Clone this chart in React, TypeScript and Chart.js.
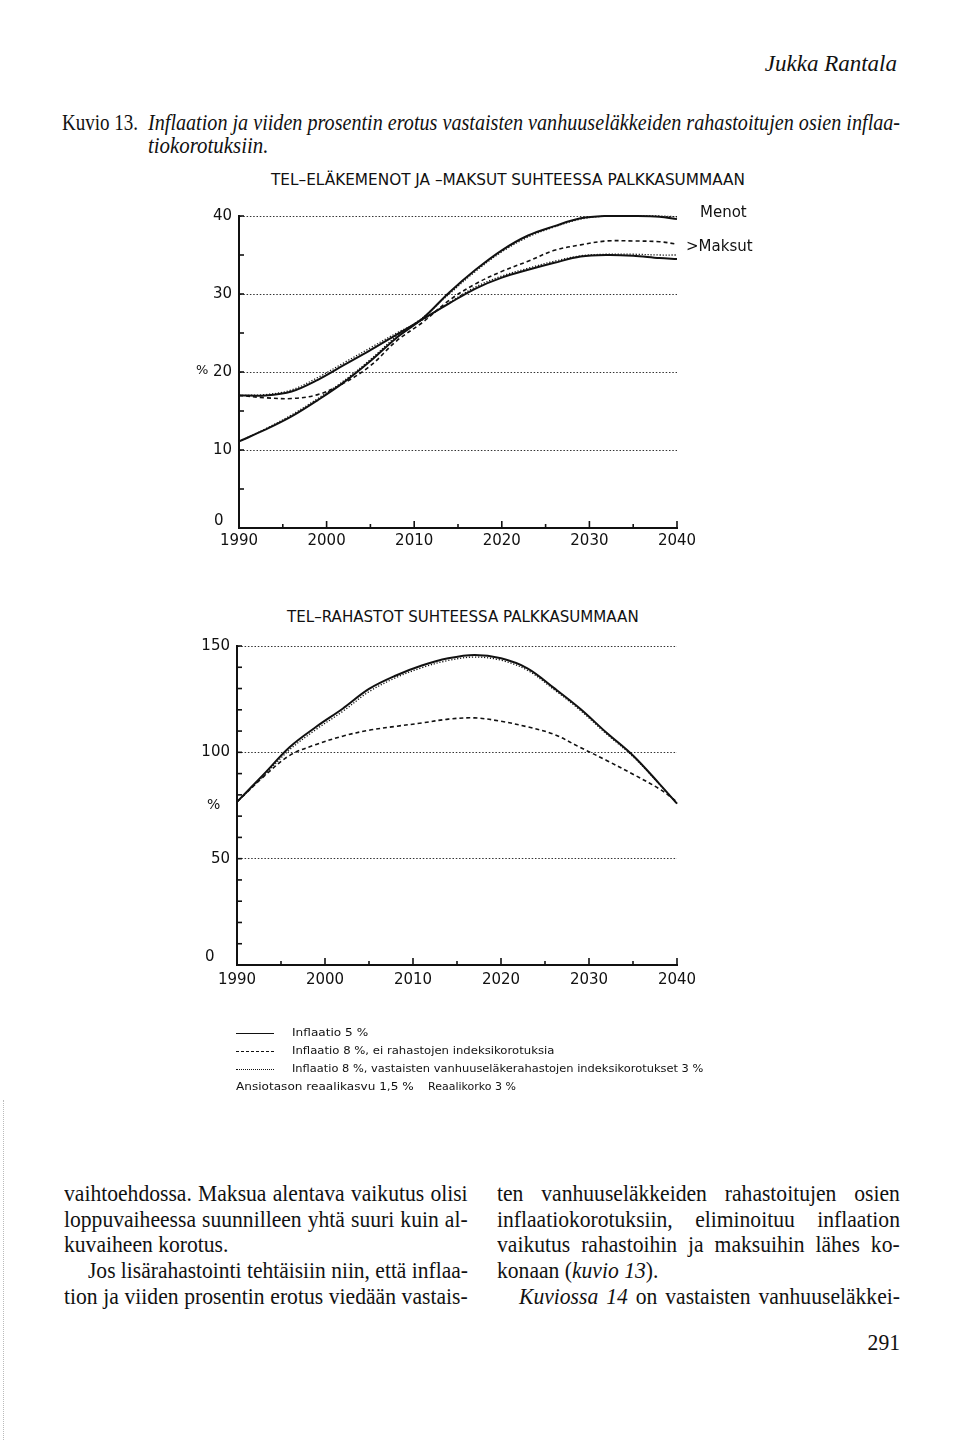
import React, { useEffect, useLayoutEffect, useRef } from "react";
import { Chart, registerables } from "chart.js";

Chart.register(...registerables);

// ---------- data ----------
const years = [1990, 1993, 1996, 1999, 2002, 2005, 2008, 2011, 2014, 2017, 2020, 2023, 2026, 2029, 2032, 2035, 2038, 2040];

// TEL-eläkemenot ja -maksut suhteessa palkkasummaan (%)
const menotInf5 = [11.1, 12.6, 14.3, 16.4, 18.7, 21.4, 24.4, 26.9, 30.2, 33.1, 35.6, 37.5, 38.7, 39.7, 40.0, 40.0, 39.9, 39.6];
const menotInf8Index = [11.1, 12.7, 14.5, 16.6, 18.9, 21.6, 24.6, 27.0, 30.0, 32.9, 35.4, 37.3, 38.6, 39.6, 40.0, 40.0, 40.0, 39.9];
const maksutInf5 = [17.0, 17.0, 17.5, 19.0, 20.9, 22.8, 24.8, 26.8, 28.8, 30.7, 32.1, 33.1, 34.0, 34.8, 35.0, 34.9, 34.6, 34.5];
const maksutInf8 = [17.0, 16.7, 16.6, 17.1, 18.6, 20.8, 24.0, 26.4, 29.2, 31.3, 32.9, 34.2, 35.6, 36.3, 36.8, 36.8, 36.7, 36.4];
const maksutInf8Index = [17.0, 17.1, 17.7, 19.3, 21.2, 23.1, 25.0, 26.7, 28.9, 30.9, 32.3, 33.3, 34.2, 34.9, 35.1, 35.1, 35.0, 35.0];

// TEL-rahastot suhteessa palkkasummaan (%)
const rahastotInf5 = [76.7, 89.5, 102.5, 112.0, 120.5, 129.8, 136.0, 140.8, 144.2, 145.8, 144.2, 139.5, 130.3, 120.5, 109.2, 98.5, 85.2, 75.9];
const rahastotInf8 = [76.7, 88.5, 98.6, 103.7, 107.6, 110.4, 112.2, 113.8, 115.6, 116.2, 114.6, 112.0, 108.5, 102.3, 96.2, 89.7, 82.8, 76.7];
const rahastotInf8Index = [76.7, 88.8, 101.3, 110.8, 119.2, 128.5, 135.0, 139.8, 143.2, 144.8, 143.3, 138.6, 129.6, 119.8, 108.6, 98.0, 85.0, 75.9];

const xMin = 1990;
const xMax = 2040;

// ---------- styles ----------
const INK = "#111";
const SERIF = '"Liberation Serif", "Times New Roman", serif';
const SANS = '"DejaVu Sans", "Liberation Sans", sans-serif';

const SOLID = { borderColor: INK, borderWidth: 2, borderDash: [] as number[] };
const DASHED = { borderColor: INK, borderWidth: 1.6, borderDash: [4, 3] };
const DOTTED = { borderColor: INK, borderWidth: 1.3, borderDash: [1.2, 1.8] };

const pts = (vals: number[]) => years.map((x, i) => ({ x, y: vals[i] }));

const inwardTicks = {
  id: "inwardTicks",
  afterDraw(chart: any) {
    const { ctx, chartArea: a, scales } = chart;
    const xs = scales.x;
    const ys = scales.y;
    ctx.save();
    ctx.strokeStyle = INK;
    ctx.lineWidth = 1.6;
    ys.ticks.forEach((t: any) => {
      if (t.value === ys.min) return;
      const py = ys.getPixelForValue(t.value);
      ctx.beginPath();
      ctx.moveTo(a.left, py);
      ctx.lineTo(a.left + 5, py);
      ctx.stroke();
    });
    xs.ticks.forEach((t: any) => {
      if (t.value === xs.min) return;
      const px = xs.getPixelForValue(t.value);
      const len = t.value % 10 === 0 ? 7 : 4;
      ctx.beginPath();
      ctx.moveTo(px, a.bottom);
      ctx.lineTo(px, a.bottom - len);
      ctx.stroke();
    });
    ctx.restore();
  },
};

type ChartProps = {
  left: number;
  top: number;
  width: number;
  height: number;
  yMax: number;
  yStep: number;
  yLabelStep: number;
  yWidth: number;
  xHeight: number;
  xPad: number;
  padding: { top: number; right: number; left: number; bottom: number };
  datasets: any[];
};

function LineChart(p: ChartProps) {
  const ref = useRef<HTMLCanvasElement>(null);
  useEffect(() => {
    const font = { family: SANS, size: 15 };
    const chart = new Chart(ref.current as HTMLCanvasElement, {
      type: "line",
      data: { datasets: p.datasets },
      options: {
        animation: false,
        responsive: false,
        maintainAspectRatio: false,
        layout: { padding: p.padding },
        plugins: { legend: { display: false }, tooltip: { enabled: false }, title: { display: false } },
        elements: { point: { radius: 0 }, line: { tension: 0.35 } },
        scales: {
          x: {
            type: "linear",
            min: xMin,
            max: xMax,
            afterFit: (s: any) => {
              s.height = p.xHeight;
            },
            grid: { display: false, drawTicks: false },
            border: { display: true, color: INK, width: 2 },
            ticks: {
              stepSize: 5,
              autoSkip: false,
              maxRotation: 0,
              padding: p.xPad,
              color: INK,
              font,
              callback: (v: any) => (Number(v) % 10 === 0 ? String(v) : ""),
            },
          },
          y: {
            min: 0,
            max: p.yMax,
            afterFit: (s: any) => {
              s.width = p.yWidth;
            },
            grid: {
              drawTicks: false,
              lineWidth: 1,
              color: (c: any) =>
                c.tick && c.tick.value > 0 && c.tick.value % p.yLabelStep === 0 ? "#333" : "rgba(0,0,0,0)",
            },
            border: { display: true, color: INK, width: 2, dash: [1.5, 1.8] },
            ticks: {
              stepSize: p.yStep,
              autoSkip: false,
              padding: 7,
              color: INK,
              font,
              // the zero label sits lower-left of the corner and is placed separately
              callback: (v: any) => (Number(v) !== 0 && Number(v) % p.yLabelStep === 0 ? String(v) : ""),
            },
          },
        },
      } as any,
      plugins: [inwardTicks],
    });
    return () => chart.destroy();
  }, []);
  return (
    <canvas
      ref={ref}
      width={p.width}
      height={p.height}
      style={{ position: "absolute", left: p.left, top: p.top, width: p.width, height: p.height }}
    />
  );
}

type LineProps = {
  x: number;
  y: number;
  w?: number;
  size: number;
  family?: string;
  italic?: boolean;
  fit?: "justify" | "scale" | "none";
  sx?: number;
  right?: boolean;
  children: React.ReactNode;
};

function Line({ x, y, w, size, family = SERIF, italic, fit = "none", sx = 1, right, children }: LineProps) {
  const ref = useRef<HTMLSpanElement>(null);
  useLayoutEffect(() => {
    const el = ref.current;
    if (!el) return;
    el.style.wordSpacing = "0px";
    el.style.transform = "none";
    const nat = el.offsetWidth;
    if (w && fit !== "none" && nat > 0) {
      const spaces = (el.textContent || "").split(" ").length - 1;
      if (fit === "scale" || nat * sx > w || !spaces) {
        el.style.transform = `scaleX(${w / nat})`;
      } else {
        el.style.wordSpacing = `${(w - nat * sx) / spaces / sx}px`;
        el.style.transform = `scaleX(${sx})`;
      }
    } else if (sx !== 1) {
      el.style.transform = `scaleX(${sx})`;
    }
  }, []);
  const top = y - size * 0.6;
  return (
    <div
      style={{
        position: "absolute",
        left: right ? undefined : x,
        right: right ? 960 - x : undefined,
        top,
        whiteSpace: "pre",
        lineHeight: `${size}px`,
        fontSize: size,
        fontFamily: family,
        fontStyle: italic ? "italic" : "normal",
        color: INK,
      }}
    >
      <span ref={ref} style={{ display: "inline-block", transformOrigin: right ? "100% 0" : "0 0" }}>
        {children}
      </span>
    </div>
  );
}

function LegendRow({ y, kind, children, w }: { y: number; kind: string; children: React.ReactNode; w: number }) {
  return (
    <>
      <div
        style={{
          position: "absolute",
          left: 236,
          top: y - 1,
          width: 38,
          height: 0,
          borderTop: `${kind === "solid" ? 1.6 : 1.4}px ${kind} ${INK}`,
        }}
      />
      <Line x={292} y={y} w={w} size={11} family={SANS} fit="scale">
        {children}
      </Line>
    </>
  );
}

const BODY = 24;
const BSX = 0.9;
const CAP = 24;
const CSX = 0.87;

export default function App() {
  const topDatasets = [
    { label: "Menot, inflaatio 5 %", data: pts(menotInf5), ...SOLID, clip: 4 },
    { label: "Menot, inflaatio 8 %, indeksikorotukset", data: pts(menotInf8Index), ...DOTTED, clip: 4 },
    { label: "Maksut, inflaatio 5 %", data: pts(maksutInf5), ...SOLID, clip: 4 },
    { label: "Maksut, inflaatio 8 %", data: pts(maksutInf8), ...DASHED, clip: 4 },
    { label: "Maksut, inflaatio 8 %, indeksikorotukset", data: pts(maksutInf8Index), ...DOTTED, clip: 4 },
  ];
  const bottomDatasets = [
    { label: "Inflaatio 5 %", data: pts(rahastotInf5), ...SOLID, clip: 4 },
    { label: "Inflaatio 8 %", data: pts(rahastotInf8), ...DASHED, clip: 4 },
    { label: "Inflaatio 8 %, indeksikorotukset", data: pts(rahastotInf8Index), ...DOTTED, clip: 4 },
  ];

  return (
    <div style={{ position: "absolute", left: 0, top: 0, width: 960, height: 1440, background: "#fff", overflow: "hidden" }}>
      {/* page header */}
      <Line x={897} y={66} size={23} italic right>
        Jukka Rantala
      </Line>
      <Line x={62} y={124} w={76} size={CAP} fit="scale">
        Kuvio 13.
      </Line>
      <Line x={148} y={124} w={752} size={CAP} italic fit="justify" sx={CSX}>
        Inflaation ja viiden prosentin erotus vastaisten vanhuuseläkkeiden rahastoitujen osien inflaa-
      </Line>
      <Line x={148} y={147} size={CAP} italic sx={CSX}>
        tiokorotuksiin.
      </Line>

      {/* top chart */}
      <Line x={271} y={182} w={474} size={15} family={SANS} fit="scale">
        TEL–ELÄKEMENOT JA –MAKSUT SUHTEESSA PALKKASUMMAAN
      </Line>
      <LineChart
        left={150}
        top={200}
        width={560}
        height={360}
        yMax={40}
        yStep={5}
        yLabelStep={10}
        yWidth={89}
        xHeight={32}
        xPad={4}
        padding={{ top: 10, right: 33, left: 0, bottom: 0 }}
        datasets={topDatasets}
      />
      <Line x={196} y={371} size={13} family={SANS}>
        %
      </Line>
      <Line x={214} y={522} size={15} family={SANS}>
        0
      </Line>
      <Line x={700} y={214} size={15} family={SANS}>
        Menot
      </Line>
      <Line x={686} y={248} size={15} family={SANS}>
        {">Maksut"}
      </Line>

      {/* bottom chart */}
      <Line x={287} y={619} w={352} size={15} family={SANS} fit="scale">
        TEL–RAHASTOT SUHTEESSA PALKKASUMMAAN
      </Line>
      <LineChart
        left={150}
        top={630}
        width={560}
        height={370}
        yMax={150}
        yStep={10}
        yLabelStep={50}
        yWidth={87}
        xHeight={35}
        xPad={6}
        padding={{ top: 14, right: 33, left: 0, bottom: 0 }}
        datasets={bottomDatasets}
      />
      <Line x={207} y={805} size={14} family={SANS}>
        %
      </Line>
      <Line x={205} y={958} size={15} family={SANS}>
        0
      </Line>

      {/* legend */}
      <LegendRow y={1034} kind="solid" w={76}>
        Inflaatio 5 %
      </LegendRow>
      <LegendRow y={1052} kind="dashed" w={262}>
        Inflaatio 8 %, ei rahastojen indeksikorotuksia
      </LegendRow>
      <LegendRow y={1070} kind="dotted" w={411}>
        Inflaatio 8 %, vastaisten vanhuuseläkerahastojen indeksikorotukset 3 %
      </LegendRow>
      <Line x={236} y={1088} w={178} size={11} family={SANS} fit="scale">
        Ansiotason reaalikasvu 1,5 %
      </Line>
      <Line x={428} y={1088} w={88} size={11} family={SANS} fit="scale">
        Reaalikorko 3 %
      </Line>

      {/* body text, left column */}
      <Line x={64} y={1195} w={404} size={BODY} fit="justify" sx={BSX}>
        vaihtoehdossa. Maksua alentava vaikutus olisi
      </Line>
      <Line x={64} y={1221} w={404} size={BODY} fit="justify" sx={BSX}>
        loppuvaiheessa suunnilleen yhtä suuri kuin al-
      </Line>
      <Line x={64} y={1246} size={BODY} sx={BSX}>
        kuvaiheen korotus.
      </Line>
      <Line x={88} y={1272} w={380} size={BODY} fit="justify" sx={BSX}>
        Jos lisärahastointi tehtäisiin niin, että inflaa-
      </Line>
      <Line x={64} y={1298} w={404} size={BODY} fit="justify" sx={BSX}>
        tion ja viiden prosentin erotus viedään vastais-
      </Line>

      {/* body text, right column */}
      <Line x={497} y={1195} w={403} size={BODY} fit="justify" sx={BSX}>
        ten vanhuuseläkkeiden rahastoitujen osien
      </Line>
      <Line x={497} y={1221} w={403} size={BODY} fit="justify" sx={BSX}>
        inflaatiokorotuksiin, eliminoituu inflaation
      </Line>
      <Line x={497} y={1246} w={403} size={BODY} fit="justify" sx={BSX}>
        vaikutus rahastoihin ja maksuihin lähes ko-
      </Line>
      <Line x={497} y={1272} size={BODY} sx={BSX}>
        konaan (<i>kuvio 13</i>).
      </Line>
      <Line x={519} y={1298} w={381} size={BODY} fit="justify" sx={BSX}>
        <i>Kuviossa 14</i> on vastaisten vanhuuseläkkei-
      </Line>

      {/* page number */}
      <Line x={900} y={1344} size={BODY} right sx={0.9}>
        291
      </Line>

      {/* faint scan margin */}
      <div
        style={{
          position: "absolute",
          left: 3,
          top: 1100,
          width: 0,
          height: 340,
          borderLeft: "1px dotted #bbb",
        }}
      />
    </div>
  );
}
